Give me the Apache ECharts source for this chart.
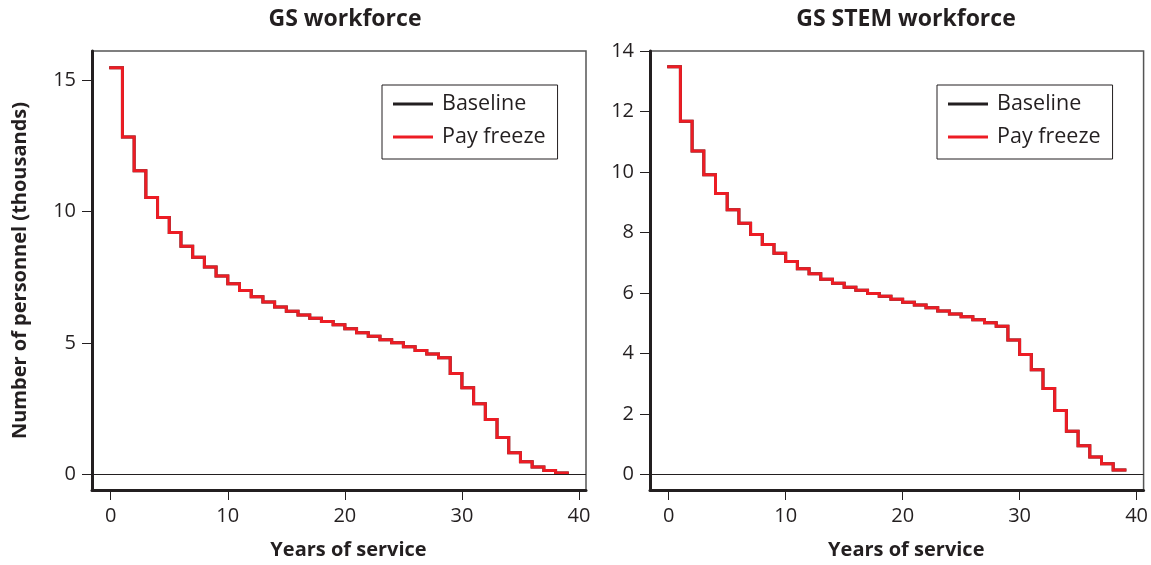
<!DOCTYPE html>
<html>
<head>
<meta charset="utf-8">
<script src="https://cdn.jsdelivr.net/npm/echarts@6/dist/echarts.min.js"></script>
<style>
  html, body { margin: 0; padding: 0; background: #fff; }
  #chart { width: 1151px; height: 565px; }
</style>
</head>
<body>
<div id="chart"></div>
<script>
// Personnel remaining (thousands) at each year of service, 0..38
const years = Array.from({ length: 40 }, (_, i) => i); // 0..39 step edges
const gsBaseline = [15.46, 12.83, 11.55, 10.53, 9.77, 9.20, 8.68, 8.26, 7.89, 7.55,
  7.25, 6.99, 6.76, 6.56, 6.37, 6.21, 6.06, 5.94, 5.82, 5.69,
  5.54, 5.39, 5.26, 5.12, 5.01, 4.86, 4.71, 4.58, 4.44, 3.84,
  3.30, 2.69, 2.09, 1.41, 0.83, 0.48, 0.28, 0.15, 0.06];
const gsPayFreeze = gsBaseline.slice();
const stemBaseline = [13.48, 11.68, 10.69, 9.91, 9.29, 8.75, 8.30, 7.93, 7.60, 7.31,
  7.04, 6.80, 6.63, 6.45, 6.32, 6.19, 6.09, 5.98, 5.89, 5.79,
  5.69, 5.60, 5.51, 5.40, 5.30, 5.21, 5.11, 5.01, 4.90, 4.44,
  3.96, 3.46, 2.84, 2.11, 1.42, 0.94, 0.57, 0.35, 0.14];
const stemPayFreeze = stemBaseline.slice();

const xTicks = [0, 10, 20, 30, 40];
const gsYTicks = [0, 5, 10, 15];
const stemYTicks = [0, 2, 4, 6, 8, 10, 12, 14];
const panelTitles = ['GS workforce', 'GS STEM workforce'];
const seriesNames = ['Baseline', 'Pay freeze'];

const INK = '#231f20';
const RED = '#ed1c24';
const FONT = 'Open Sans';

// each year's value holds until the next year, so repeat the last value at the final edge
function steps(values) {
  const pts = values.map((v, i) => [years[i], v]);
  pts.push([years[values.length], values[values.length - 1]]);
  return pts;
}

function xAxis(gridIndex) {
  return {
    type: 'value', gridIndex, min: -1.6, max: 40.6,
    name: 'Years of service', nameLocation: 'middle', nameGap: 50,
    nameTextStyle: { fontFamily: FONT, fontWeight: 'bold', fontSize: 20, color: INK, padding: [0, 0, 0, 19] },
    axisLine: { show: true, onZero: false, lineStyle: { color: INK, width: 3 } },
    axisTick: { show: true, customValues: xTicks, length: 10, lineStyle: { color: INK, width: 1 } },
    axisLabel: { customValues: xTicks, margin: 16, fontFamily: FONT, fontSize: 20, color: INK },
    splitLine: { show: false }
  };
}

function yAxis(gridIndex, min, max, ticks, name) {
  return {
    type: 'value', gridIndex, min, max,
    name: name || '', nameLocation: 'middle', nameGap: 62,
    nameTextStyle: { fontFamily: FONT, fontWeight: 'bold', fontSize: 20, color: INK },
    axisLine: { show: true, onZero: false, lineStyle: { color: INK, width: 3 } },
    axisTick: { show: true, customValues: ticks, length: 10, lineStyle: { color: INK, width: 1 } },
    axisLabel: { customValues: ticks, margin: 16, fontFamily: FONT, fontSize: 20, color: INK },
    splitLine: { show: false }
  };
}

function stepSeries(name, data, idx, color, z) {
  return {
    name, type: 'line', xAxisIndex: idx, yAxisIndex: idx,
    data: steps(data), step: 'end', symbol: 'none', z,
    lineStyle: { color, width: 3, cap: 'square', join: 'miter' },
    itemStyle: { color }
  };
}

function zeroLine(idx) {
  return {
    name: 'zero', type: 'line', xAxisIndex: idx, yAxisIndex: idx, data: [], z: 1,
    markLine: {
      silent: true, symbol: 'none', label: { show: false }, animation: false,
      lineStyle: { color: INK, width: 1, type: 'solid' },
      data: [{ yAxis: 0 }]
    }
  };
}

function legend(left) {
  return {
    left, top: 85, orient: 'vertical',
    data: seriesNames,
    icon: 'rect', itemWidth: 40, itemHeight: 3, itemGap: 9,
    padding: [7, 12, 10, 11],
    borderColor: INK, borderWidth: 1,
    selectedMode: false,
    textStyle: { fontFamily: FONT, fontSize: 21.5, color: INK, lineHeight: 24, padding: [0, 0, 0, 4] }
  };
}

const chart = echarts.init(document.getElementById('chart'), null, { renderer: 'canvas' });
chart.setOption({
  animation: false,
  backgroundColor: '#fff',
  title: [
    { text: panelTitles[0], left: 340, top: 3, textAlign: 'center',
      textStyle: { fontFamily: FONT, fontWeight: 'bold', fontSize: 23, color: INK } },
    { text: panelTitles[1], left: 901, top: 3, textAlign: 'center',
      textStyle: { fontFamily: FONT, fontWeight: 'bold', fontSize: 23, color: INK } }
  ],
  legend: [legend(382), legend(937)],
  grid: [
    { left: 92, top: 51, width: 494, height: 442, show: true, borderColor: '#555', borderWidth: 1.5 },
    { left: 650, top: 51, width: 495, height: 442, show: true, borderColor: '#555', borderWidth: 1.5 }
  ],
  xAxis: [xAxis(0), xAxis(1)],
  yAxis: [
    yAxis(0, -0.59, 16.1, gsYTicks, 'Number of personnel (thousands)'),
    yAxis(1, -0.52, 14, stemYTicks)
  ],
  series: [
    zeroLine(0), zeroLine(1),
    stepSeries(seriesNames[0], gsBaseline, 0, INK, 2),
    stepSeries(seriesNames[1], gsPayFreeze, 0, RED, 3),
    stepSeries(seriesNames[0], stemBaseline, 1, INK, 2),
    stepSeries(seriesNames[1], stemPayFreeze, 1, RED, 3)
  ]
});
</script>
</body>
</html>
